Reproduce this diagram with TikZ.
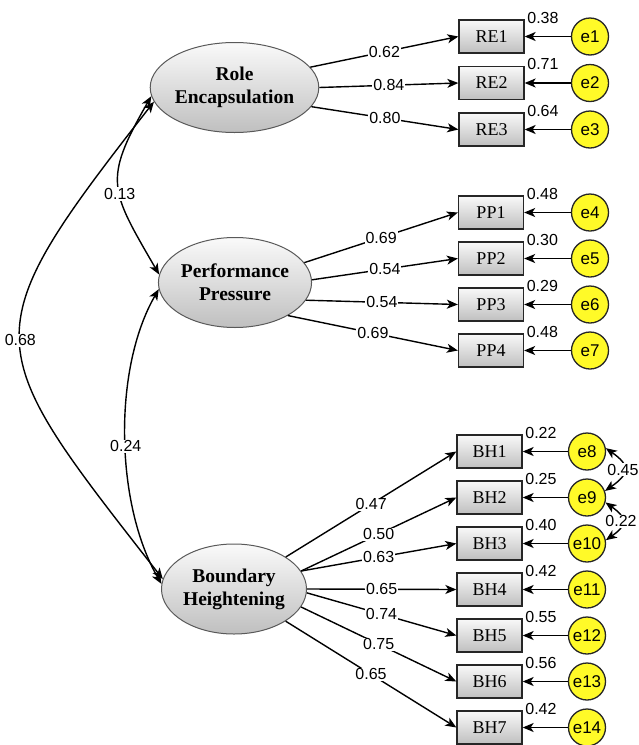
\documentclass[tikz,border=0pt]{standalone}
\usepackage{fontspec}
\setmainfont{Liberation Serif}
\setsansfont{Liberation Sans}
\usetikzlibrary{shapes.geometric,arrows.meta}
\definecolor{errfill}{RGB}{255,250,40}
\tikzset{
  latent/.style={ellipse, draw=gray!70!black, line width=1pt, top color=gray!4, bottom color=gray!50,
    minimum width=145pt, minimum height=90pt, inner sep=0pt, align=center,
    font=\fontsize{19.5}{23}\selectfont\bfseries},
  indic/.style={rectangle, draw=black!85, line width=1.3pt, top color=gray!5, bottom color=gray!50,
    minimum width=65pt, minimum height=33pt, inner sep=0pt, font=\fontsize{18}{20}\selectfont},
  err/.style={circle, draw=black!85, line width=1.3pt, fill=errfill, minimum size=37pt, inner sep=0pt,
    font=\sffamily\fontsize{17}{18}\selectfont},
  coef/.style={midway, fill=white, inner sep=1pt, font=\sffamily\fontsize{16}{18}\selectfont},
  varlab/.style={anchor=west, inner sep=2pt, yshift=1.5pt, font=\sffamily\fontsize{16}{18}\selectfont}
}
\begin{document}
\begin{tikzpicture}[x=1pt, y=1pt, line width=1.4pt, >={Stealth[length=11pt, width=9pt, inset=3pt]}]
			\useasboundingbox (0,0) rectangle (639,-745);
			% latent factors
			\node[latent] (RE) at (234.5,-87.5) {Role\\Encapsulation};
			\node[latent] (PP) at (235,-282.5) {Performance\\Pressure};
			\node[latent] (BH) at (234,-589) {Boundary\\Heightening};
			% observed items
			\node[indic] (RE1) at (491.5,-36.5) {RE1};
			\node[indic] (RE2) at (491.5,-83) {RE2};
			\node[indic] (RE3) at (491.5,-129.5) {RE3};
			\node[indic] (PP1) at (491,-212.5) {PP1};
			\node[indic] (PP2) at (491,-258.5) {PP2};
			\node[indic] (PP3) at (491,-304.5) {PP3};
			\node[indic] (PP4) at (491,-350.5) {PP4};
			\node[indic] (BH1) at (489.5,-451.5) {BH1};
			\node[indic] (BH2) at (489.5,-497.5) {BH2};
			\node[indic] (BH3) at (489.5,-543.5) {BH3};
			\node[indic] (BH4) at (489.5,-589.5) {BH4};
			\node[indic] (BH5) at (489.5,-635.5) {BH5};
			\node[indic] (BH6) at (489.5,-681.5) {BH6};
			\node[indic] (BH7) at (489.5,-727.5) {BH7};
			% error terms
			\node[err] (e1) at (590,-36.5) {e1};
			\node[err] (e2) at (590,-83) {e2};
			\node[err] (e3) at (590,-129.5) {e3};
			\node[err] (e4) at (590,-212.5) {e4};
			\node[err] (e5) at (590,-258.5) {e5};
			\node[err] (e6) at (590,-304.5) {e6};
			\node[err] (e7) at (590,-350.5) {e7};
			\node[err] (e8) at (587,-451.5) {e8};
			\node[err] (e9) at (587,-497.5) {e9};
			\node[err] (e10) at (587,-543.5) {e10};
			\node[err] (e11) at (587,-589.5) {e11};
			\node[err] (e12) at (587,-635.5) {e12};
			\node[err] (e13) at (587,-681.5) {e13};
			\node[err] (e14) at (587,-727.5) {e14};
			% loadings
			\draw [->] (RE.15) -- (RE1.west) node[coef] {0.62};
			\draw [->] (RE.east) -- (RE2.west) node[coef] {0.84};
			\draw [->] (RE.-14) -- (RE3.west) node[coef] {0.80};
			\draw [->] (PP.16) -- (PP1.west) node[coef] {0.69};
			\draw [->] (PP.2) -- (PP2.west) node[coef] {0.54};
			\draw [->] (PP.-14) -- (PP3.west) node[coef] {0.54};
			\draw [->] (PP.-32) -- (PP4.west) node[coef] {0.69};
			\draw [->] (BH) -- (BH1.west) node[coef] {0.47};
			\draw [->] (BH.15) -- (BH2.west) node[coef] {0.50};
			\draw [->] (BH.15) -- (BH3.west) node[coef] {0.63};
			\draw [->] (BH.east) -- (BH4.west) node[coef] {0.65};
			\draw [->] (BH.-3) -- (BH5.west) node[coef] {0.74};
			\draw [->] (BH.-15) -- (BH6.west) node[coef] {0.75};
			\draw [->] (BH) -- (BH7.west) node[coef] {0.65};
			% errors to items
			\draw [->] (e1) -- (RE1);
			\draw [->] (e2) -- (RE2);
			\draw [->] (e3) -- (RE3);
			\draw [->] (e4) -- (PP1);
			\draw [->] (e5) -- (PP2);
			\draw [->] (e6) -- (PP3);
			\draw [->] (e7) -- (PP4);
			\draw [->] (e8) -- (BH1);
			\draw [->] (e9) -- (BH2);
			\draw [->] (e10) -- (BH3);
			\draw [->] (e11) -- (BH4);
			\draw [->] (e12) -- (BH5);
			\draw [->] (e13) -- (BH6);
			\draw [->] (e14) -- (BH7);
			% squared multiple correlations
			\node[varlab] (r1) at (RE1.north east) {0.38};
			\node[varlab] (r2) at (RE2.north east) {0.71};
			\node[varlab] (r3) at (RE3.north east) {0.64};
			\node[varlab] (r4) at (PP1.north east) {0.48};
			\node[varlab] (r5) at (PP2.north east) {0.30};
			\node[varlab] (r6) at (PP3.north east) {0.29};
			\node[varlab] (r7) at (PP4.north east) {0.48};
			\node[varlab] (r8) at (BH1.north east) {0.22};
			\node[varlab] (r9) at (BH2.north east) {0.25};
			\node[varlab] (r10) at (BH3.north east) {0.40};
			\node[varlab] (r11) at (BH4.north east) {0.42};
			\node[varlab] (r12) at (BH5.north east) {0.55};
			\node[varlab] (r13) at (BH6.north east) {0.56};
			\node[varlab] (r14) at (BH7.north east) {0.42};
			% covariances
			\draw [<->] (RE.186) to[out=240, in=120, looseness=1.4] node[coef, pos=0.56] {0.13} (PP.174);
			\draw [<->] (RE.190) to[out=232, in=128, looseness=1.6] node[coef] {0.68} (BH.172);
			\draw [<->] (PP.185) to[out=240, in=120, looseness=0.8] node[coef, pos=0.53] {0.24} (BH.176);
			\draw [<->] (e8.10) to[out=-35, in=35, looseness=1.8] node[coef, xshift=-1pt] {0.45} (e9.20);
			\draw [<->] (e9.-15) to[out=-35, in=35, looseness=1.8] node[coef, xshift=-1pt] {0.22} (e10.10);
		\end{tikzpicture}
\end{document}
